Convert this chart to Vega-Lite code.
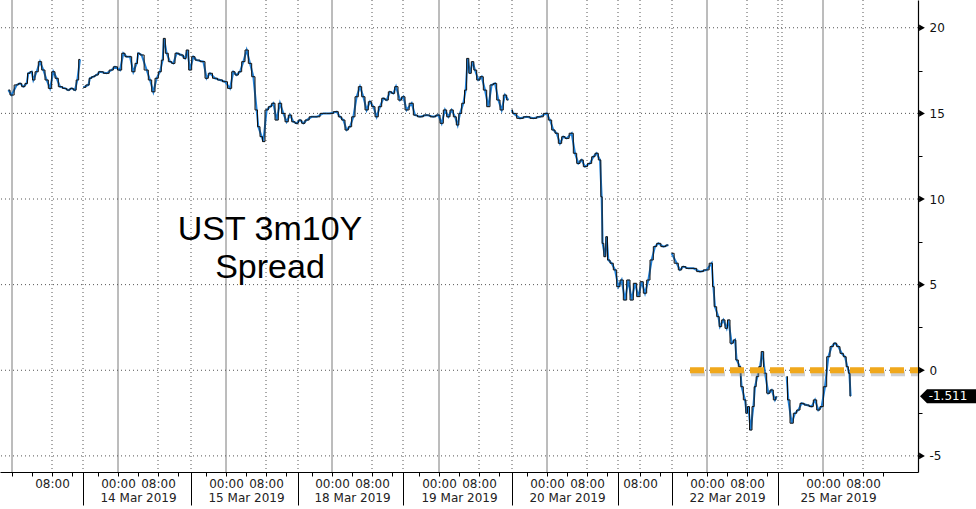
{
  "$schema": "https://vega.github.io/schema/vega-lite/v6.json",
  "width": 918,
  "height": 472,
  "autosize": {"type": "none"},
  "padding": {"left": 0, "top": 0, "right": 58, "bottom": 37},
  "background": "white",
  "config": {
    "view": {"stroke": null},
    "axis": {"labelFont": "DejaVu Sans", "labelFontSize": 12, "labelColor": "#222222", "title": null, "grid": false}
  },
  "datasets": {
    "series": [
      {"t": -0.73, "v": 16.36, "s": 1}, {"t": -0.07, "v": 16.07, "s": 1}, {"t": 0.93, "v": 16.66, "s": 1}, {"t": 1.6, "v": 16.75, "s": 1},
      {"t": 2.27, "v": 16.56, "s": 1}, {"t": 2.93, "v": 16.75, "s": 1}, {"t": 3.27, "v": 17.34, "s": 1}, {"t": 3.93, "v": 17.43, "s": 1},
      {"t": 4.27, "v": 16.95, "s": 1}, {"t": 4.93, "v": 17.43, "s": 1}, {"t": 5.6, "v": 18.02, "s": 1}, {"t": 6.27, "v": 17.53, "s": 1},
      {"t": 6.93, "v": 16.95, "s": 1}, {"t": 7.6, "v": 16.46, "s": 1}, {"t": 8.27, "v": 17.43, "s": 1}, {"t": 8.93, "v": 17.05, "s": 1},
      {"t": 9.6, "v": 16.56, "s": 1}, {"t": 10.6, "v": 16.46, "s": 1}, {"t": 11.27, "v": 16.36, "s": 1}, {"t": 11.93, "v": 16.46, "s": 1},
      {"t": 12.6, "v": 16.36, "s": 1}, {"t": 13.07, "v": 16.95, "s": 1}, {"t": 13.6, "v": 18.15, "s": 1},
      {"t": 14.27, "v": 16.52, "s": 2}, {"t": 15.27, "v": 16.66, "s": 2}, {"t": 15.6, "v": 17.05, "s": 2}, {"t": 16.27, "v": 17.14, "s": 2},
      {"t": 16.93, "v": 17.24, "s": 2}, {"t": 17.6, "v": 17.43, "s": 2}, {"t": 18.93, "v": 17.34, "s": 2}, {"t": 19.93, "v": 17.53, "s": 2},
      {"t": 20.6, "v": 17.72, "s": 2}, {"t": 21.6, "v": 17.53, "s": 2}, {"t": 22.27, "v": 18.51, "s": 2}, {"t": 22.93, "v": 18.31, "s": 2},
      {"t": 23.6, "v": 18.31, "s": 2}, {"t": 24.27, "v": 17.43, "s": 2}, {"t": 24.93, "v": 17.92, "s": 2}, {"t": 25.27, "v": 18.51, "s": 2},
      {"t": 25.93, "v": 18.41, "s": 2}, {"t": 26.93, "v": 17.53, "s": 2}, {"t": 27.6, "v": 16.95, "s": 2}, {"t": 28.27, "v": 16.26, "s": 2},
      {"t": 28.93, "v": 17.05, "s": 2}, {"t": 29.6, "v": 17.43, "s": 2}, {"t": 30.13, "v": 18.11, "s": 2}, {"t": 30.4, "v": 19.38, "s": 2},
      {"t": 30.93, "v": 18.51, "s": 2}, {"t": 31.6, "v": 18.02, "s": 2}, {"t": 32.27, "v": 17.92, "s": 2}, {"t": 32.93, "v": 18.51, "s": 2},
      {"t": 33.93, "v": 18.41, "s": 2}, {"t": 34.6, "v": 18.21, "s": 2}, {"t": 35.07, "v": 18.7, "s": 2}, {"t": 35.6, "v": 17.53, "s": 2},
      {"t": 36.27, "v": 18.31, "s": 2}, {"t": 36.93, "v": 18.11, "s": 2}, {"t": 38.27, "v": 18.02, "s": 2}, {"t": 38.93, "v": 17.05, "s": 2},
      {"t": 39.6, "v": 17.34, "s": 2}, {"t": 40.6, "v": 17.05, "s": 2}, {"t": 41.6, "v": 16.95, "s": 2}, {"t": 42.6, "v": 16.85, "s": 2},
      {"t": 43.6, "v": 16.46, "s": 2}, {"t": 44.27, "v": 17.43, "s": 2}, {"t": 44.93, "v": 17.24, "s": 2}, {"t": 45.6, "v": 17.43, "s": 2},
      {"t": 46.27, "v": 18.02, "s": 2}, {"t": 46.93, "v": 18.7, "s": 2}, {"t": 47.6, "v": 17.92, "s": 2}, {"t": 48.27, "v": 17.14, "s": 2},
      {"t": 48.93, "v": 15.2, "s": 2}, {"t": 49.27, "v": 14.22, "s": 2}, {"t": 49.93, "v": 13.64, "s": 2}, {"t": 50.27, "v": 13.35, "s": 2},
      {"t": 50.93, "v": 15.2, "s": 2}, {"t": 51.6, "v": 15.39, "s": 2}, {"t": 52.27, "v": 15.59, "s": 2}, {"t": 52.93, "v": 14.61, "s": 2},
      {"t": 53.6, "v": 15.59, "s": 2}, {"t": 54.27, "v": 15.0, "s": 2}, {"t": 54.93, "v": 14.51, "s": 2}, {"t": 55.6, "v": 14.9, "s": 2},
      {"t": 56.27, "v": 14.51, "s": 2}, {"t": 56.93, "v": 14.42, "s": 2}, {"t": 57.6, "v": 14.61, "s": 2}, {"t": 58.27, "v": 14.42, "s": 2},
      {"t": 58.93, "v": 14.61, "s": 2}, {"t": 59.93, "v": 14.8, "s": 2}, {"t": 60.93, "v": 14.8, "s": 2}, {"t": 62.27, "v": 15.0, "s": 2},
      {"t": 63.6, "v": 15.0, "s": 2}, {"t": 64.93, "v": 15.1, "s": 2}, {"t": 65.6, "v": 14.8, "s": 2}, {"t": 66.27, "v": 14.61, "s": 2},
      {"t": 66.93, "v": 14.03, "s": 2}, {"t": 67.6, "v": 14.22, "s": 2}, {"t": 68.27, "v": 14.8, "s": 2}, {"t": 68.93, "v": 15.97, "s": 2},
      {"t": 69.6, "v": 16.56, "s": 2}, {"t": 70.27, "v": 15.97, "s": 2}, {"t": 70.93, "v": 15.2, "s": 2}, {"t": 71.6, "v": 15.68, "s": 2},
      {"t": 72.27, "v": 15.39, "s": 2}, {"t": 72.93, "v": 14.8, "s": 2}, {"t": 73.6, "v": 15.39, "s": 2}, {"t": 74.27, "v": 15.88, "s": 2},
      {"t": 74.93, "v": 15.78, "s": 2}, {"t": 75.6, "v": 16.26, "s": 2}, {"t": 76.27, "v": 16.17, "s": 2}, {"t": 76.8, "v": 16.56, "s": 2},
      {"t": 77.6, "v": 15.78, "s": 2}, {"t": 78.27, "v": 15.97, "s": 2}, {"t": 78.93, "v": 15.2, "s": 2}, {"t": 79.93, "v": 15.59, "s": 2},
      {"t": 80.6, "v": 14.9, "s": 2}, {"t": 81.6, "v": 14.8, "s": 2}, {"t": 82.93, "v": 14.9, "s": 2}, {"t": 84.27, "v": 14.8, "s": 2},
      {"t": 85.27, "v": 14.9, "s": 2}, {"t": 85.93, "v": 14.42, "s": 2}, {"t": 86.6, "v": 15.2, "s": 2}, {"t": 87.27, "v": 14.8, "s": 2},
      {"t": 87.93, "v": 15.2, "s": 2}, {"t": 88.6, "v": 14.8, "s": 2}, {"t": 89.13, "v": 14.32, "s": 2}, {"t": 89.6, "v": 15.0, "s": 2},
      {"t": 90.27, "v": 15.59, "s": 2}, {"t": 90.73, "v": 16.36, "s": 2}, {"t": 91.13, "v": 18.21, "s": 2}, {"t": 91.6, "v": 17.34, "s": 2},
      {"t": 92.13, "v": 18.02, "s": 2}, {"t": 92.6, "v": 17.53, "s": 2}, {"t": 93.27, "v": 16.95, "s": 2}, {"t": 93.93, "v": 17.14, "s": 2},
      {"t": 94.6, "v": 16.36, "s": 2}, {"t": 95.27, "v": 15.39, "s": 2}, {"t": 95.93, "v": 16.66, "s": 2}, {"t": 96.6, "v": 16.75, "s": 2},
      {"t": 97.27, "v": 15.78, "s": 2}, {"t": 97.93, "v": 15.2, "s": 2}, {"t": 98.6, "v": 16.07, "s": 2}, {"t": 99.27, "v": 15.78, "s": 2},
      {"t": 99.93, "v": 15.2, "s": 3}, {"t": 100.27, "v": 15.0, "s": 3}, {"t": 101.6, "v": 14.71, "s": 3}, {"t": 102.93, "v": 14.8, "s": 3},
      {"t": 104.27, "v": 14.71, "s": 3}, {"t": 105.6, "v": 14.8, "s": 3}, {"t": 106.93, "v": 15.0, "s": 3}, {"t": 107.6, "v": 14.61, "s": 3},
      {"t": 108.27, "v": 14.03, "s": 3}, {"t": 108.93, "v": 13.84, "s": 3}, {"t": 109.6, "v": 13.25, "s": 3}, {"t": 110.27, "v": 13.64, "s": 3},
      {"t": 110.93, "v": 13.54, "s": 3}, {"t": 111.93, "v": 13.84, "s": 3}, {"t": 112.6, "v": 12.67, "s": 3}, {"t": 113.27, "v": 12.08, "s": 3},
      {"t": 113.93, "v": 12.28, "s": 3}, {"t": 114.6, "v": 11.89, "s": 3}, {"t": 115.6, "v": 12.08, "s": 3}, {"t": 116.27, "v": 12.47, "s": 3},
      {"t": 116.93, "v": 12.67, "s": 3}, {"t": 117.6, "v": 12.28, "s": 3}, {"t": 117.93, "v": 10.13, "s": 3}, {"t": 118.13, "v": 7.41, "s": 3},
      {"t": 118.6, "v": 6.63, "s": 3}, {"t": 118.93, "v": 7.8, "s": 3}, {"t": 119.27, "v": 6.44, "s": 3}, {"t": 119.93, "v": 6.25, "s": 3},
      {"t": 120.6, "v": 5.86, "s": 3}, {"t": 121.27, "v": 4.88, "s": 3}, {"t": 121.93, "v": 5.27, "s": 3}, {"t": 122.6, "v": 4.1, "s": 3},
      {"t": 123.27, "v": 5.27, "s": 3}, {"t": 123.93, "v": 4.1, "s": 3}, {"t": 124.6, "v": 5.08, "s": 3}, {"t": 125.27, "v": 4.3, "s": 3},
      {"t": 125.93, "v": 5.17, "s": 3}, {"t": 126.6, "v": 4.5, "s": 3}, {"t": 127.27, "v": 5.27, "s": 3}, {"t": 127.93, "v": 6.44, "s": 3},
      {"t": 128.6, "v": 7.22, "s": 3}, {"t": 129.27, "v": 7.41, "s": 3}, {"t": 130.27, "v": 7.22, "s": 3}, {"t": 131.27, "v": 7.31, "s": 3},
      {"t": 131.93, "v": 6.83, "s": 4}, {"t": 132.93, "v": 6.25, "s": 4}, {"t": 133.6, "v": 5.86, "s": 4}, {"t": 134.27, "v": 6.05, "s": 4},
      {"t": 135.27, "v": 5.95, "s": 4}, {"t": 136.27, "v": 5.95, "s": 4}, {"t": 137.6, "v": 5.76, "s": 4}, {"t": 138.93, "v": 5.86, "s": 4},
      {"t": 139.93, "v": 6.25, "s": 4}, {"t": 140.27, "v": 4.88, "s": 4}, {"t": 140.6, "v": 3.71, "s": 4}, {"t": 141.27, "v": 3.13, "s": 4},
      {"t": 141.6, "v": 2.55, "s": 4}, {"t": 142.27, "v": 2.94, "s": 4}, {"t": 142.93, "v": 2.45, "s": 4}, {"t": 143.27, "v": 2.94, "s": 4},
      {"t": 143.93, "v": 1.58, "s": 4}, {"t": 144.6, "v": 1.77, "s": 4}, {"t": 144.93, "v": 0.6, "s": 4}, {"t": 145.6, "v": 0.21, "s": 4},
      {"t": 145.93, "v": -0.96, "s": 4}, {"t": 146.6, "v": -1.73, "s": 4}, {"t": 146.93, "v": -2.51, "s": 4}, {"t": 147.27, "v": -2.12, "s": 4},
      {"t": 147.73, "v": -3.49, "s": 4}, {"t": 148.27, "v": -2.12, "s": 4}, {"t": 148.6, "v": -0.96, "s": 4}, {"t": 149.07, "v": -0.37, "s": 4},
      {"t": 149.6, "v": 0.21, "s": 4}, {"t": 150.07, "v": 1.09, "s": 4}, {"t": 150.6, "v": -0.17, "s": 4}, {"t": 151.27, "v": -1.34, "s": 4},
      {"t": 151.93, "v": -1.15, "s": 4}, {"t": 152.6, "v": -1.73, "s": 4}, {"t": 152.93, "v": -1.54, "s": 4},
      {"t": 154.93, "v": -0.37, "s": 5}, {"t": 155.27, "v": -1.73, "s": 5}, {"t": 155.93, "v": -3.09, "s": 5}, {"t": 156.6, "v": -2.51, "s": 5},
      {"t": 157.27, "v": -2.32, "s": 5}, {"t": 157.93, "v": -1.93, "s": 5}, {"t": 158.93, "v": -2.03, "s": 5}, {"t": 159.93, "v": -2.12, "s": 5},
      {"t": 160.6, "v": -1.73, "s": 5}, {"t": 161.27, "v": -2.32, "s": 5}, {"t": 161.93, "v": -2.12, "s": 5}, {"t": 162.6, "v": -0.96, "s": 5},
      {"t": 163.27, "v": 0.79, "s": 5}, {"t": 163.93, "v": 1.38, "s": 5}, {"t": 164.6, "v": 1.58, "s": 5}, {"t": 165.27, "v": 1.38, "s": 5},
      {"t": 165.93, "v": 0.99, "s": 5}, {"t": 166.6, "v": 0.79, "s": 5}, {"t": 167.07, "v": 0.21, "s": 5}, {"t": 167.47, "v": -0.17, "s": 5},
      {"t": 167.73, "v": -1.511, "s": 5}
    ],
    "vgrid": [
      {"t": 0, "k": "day"}, {"t": 21.2, "k": "day"}, {"t": 42.8, "k": "day"}, {"t": 64, "k": "day"},
      {"t": 85.4, "k": "day"}, {"t": 107, "k": "day"}, {"t": 139, "k": "day"}, {"t": 162.2, "k": "day"},
      {"t": 8, "k": "dot"}, {"t": 29.2, "k": "dot"}, {"t": 50.8, "k": "dot"}, {"t": 72, "k": "dot"},
      {"t": 93.4, "k": "dot"}, {"t": 115, "k": "dot"}, {"t": 125.6, "k": "dot"}, {"t": 147, "k": "dot"},
      {"t": 170.2, "k": "dot"},
      {"t": 14.2, "k": "dot"}, {"t": 35.8, "k": "dot"}, {"t": 57.2, "k": "dot"}, {"t": 78.2, "k": "dot"},
      {"t": 100, "k": "dot"}, {"t": 121.2, "k": "dot"}, {"t": 132, "k": "dot"}, {"t": 153.2, "k": "dot"},
      {"t": 154, "k": "dot"}
    ],
    "hgrid": [{"y": -5}, {"y": 0}, {"y": 5}, {"y": 10}, {"y": 15}, {"y": 20}],
    "last": [{"label": "-1.511", "v": -1.511}],
    "title": [{"line1": "UST 3m10Y", "line2": "Spread"}]
  },
  "resolve": {"axis": {"x": "independent"}},
  "layer": [
    {
      "data": {"name": "vgrid"},
      "mark": {"type": "rule", "strokeWidth": 1},
      "encoding": {
        "x": {
          "field": "t", "type": "quantitative",
          "scale": {"domain": [-2.4, 181.2], "nice": false, "zero": false},
          "axis": {
            "orient": "bottom", "values": [14.2, 35.8, 57.2, 78.2, 100, 121.2, 132, 153.2],
            "labels": false, "domain": false, "ticks": true, "tickSize": 33, "tickColor": "#000000", "tickWidth": 1
          }
        },
        "strokeDash": {"field": "k", "type": "nominal", "scale": {"domain": ["day", "dot"], "range": [[1, 0], [1, 3]]}, "legend": null},
        "color": {"field": "k", "type": "nominal", "scale": {"domain": ["day", "dot"], "range": ["#7a7a7a", "#555555"]}, "legend": null}
      }
    },
    {
      "data": {"name": "hgrid"},
      "mark": {"type": "rule", "color": "#555555", "strokeWidth": 1, "strokeDash": [1, 3]},
      "encoding": {
        "y": {
          "field": "y", "type": "quantitative",
          "scale": {"domain": [-5.94, 21.62], "nice": false, "zero": false},
          "axis": {
            "orient": "right",
            "values": [-5, -2.5, 0, 2.5, 5, 7.5, 10, 12.5, 15, 17.5, 20],
            "labelExpr": "datum.value % 5 === 0 ? '' + datum.value : ''",
            "domain": true, "domainColor": "#000000", "domainWidth": 1.2,
            "ticks": true, "tickSize": 4, "tickColor": "#000000",
            "labelPadding": 7, "labelFontSize": 12, "labelColor": "#111111",
            "labelBaseline": "middle", "labelOverlap": false, "labelFlush": false, "labelBound": false
          }
        }
      }
    },
    {
      "data": {"name": "series"},
      "mark": {"type": "line", "color": "#2080d8", "strokeWidth": 2},
      "encoding": {
        "x": {
          "field": "t", "type": "quantitative",
          "axis": {
            "orient": "bottom",
            "values": [0, 4, 8, 12, 17.2, 21.2, 25.2, 29.2, 33.2, 38.8, 42.8, 46.8, 50.8, 54.8, 60, 64, 68, 72, 76, 81.4, 85.4, 89.4, 93.4, 97.4, 103, 107, 111, 115, 119, 125.6, 129.6, 135, 139, 143, 147, 151, 158.2, 162.2, 166.2, 170.2, 174.2],
            "labelExpr": "indexof([21.2, 42.8, 64, 85.4, 107, 139, 162.2], datum.value) >= 0 ? '00:00' : (indexof([8, 29.2, 50.8, 72, 93.4, 115, 125.6, 147, 170.2], datum.value) >= 0 ? '08:00' : '')",
            "domain": true, "domainColor": "#000000", "domainWidth": 1.2,
            "ticks": true, "tickSize": 4, "tickColor": "#000000",
            "labelPadding": 2, "labelBaseline": "top",
            "labelOverlap": false, "labelFlush": false, "labelBound": false
          }
        },
        "y": {"field": "v", "type": "quantitative"},
        "detail": {"field": "s", "type": "nominal"}
      }
    },
    {
      "data": {"name": "series"},
      "mark": {"type": "line", "interpolate": "step", "color": "#111111", "strokeWidth": 1},
      "encoding": {
        "x": {
          "field": "t", "type": "quantitative",
          "axis": {
            "orient": "bottom",
            "values": [25.2, 46.8, 68, 89.4, 111, 143, 165.2],
            "labelExpr": "['14 Mar 2019','15 Mar 2019','18 Mar 2019','19 Mar 2019','20 Mar 2019','22 Mar 2019','25 Mar 2019'][indexof([25.2, 46.8, 68, 89.4, 111, 143, 165.2], datum.value)]",
            "ticks": false, "tickSize": 0, "domain": false, "labelPadding": 20, "labelBaseline": "top",
            "labelOverlap": false, "labelFlush": false, "labelBound": false
          }
        },
        "y": {"field": "v", "type": "quantitative"},
        "detail": {"field": "s", "type": "nominal"}
      }
    },
    {
      "data": {"name": "last"},
      "mark": {"type": "rule", "color": "#9a9a9a", "opacity": 0.45, "strokeWidth": 5, "strokeDash": [14, 6]},
      "encoding": {
        "x": {"datum": 135.8, "type": "quantitative", "axis": null},
        "x2": {"datum": 181.2},
        "y": {"datum": -0.2, "type": "quantitative"}
      }
    },
    {
      "data": {"name": "last"},
      "mark": {"type": "rule", "color": "#f0a81c", "strokeWidth": 6, "strokeDash": [14, 6]},
      "encoding": {
        "x": {"datum": 135.6, "type": "quantitative", "axis": null},
        "x2": {"datum": 181.2},
        "y": {"datum": 0, "type": "quantitative"}
      }
    },
    {
      "data": {"name": "hgrid"},
      "mark": {"type": "point", "shape": "triangle-right", "filled": true, "color": "#000000", "opacity": 1, "size": 45, "xOffset": 4},
      "encoding": {
        "x": {"datum": 181.2, "type": "quantitative", "axis": null},
        "y": {"field": "y", "type": "quantitative"}
      }
    },
    {
      "data": {"name": "last"},
      "mark": {"type": "point", "shape": "M 0.2 0 L 0.9 -0.7 L 5.8 -0.7 L 5.8 0.7 L 0.9 0.7 Z", "filled": true, "color": "#000000", "opacity": 1, "size": 400},
      "encoding": {
        "x": {"datum": 181.2, "type": "quantitative", "axis": null},
        "y": {"field": "v", "type": "quantitative"}
      }
    },
    {
      "data": {"name": "last"},
      "mark": {"type": "text", "color": "#ffffff", "font": "DejaVu Sans", "fontSize": 12, "align": "center", "baseline": "middle", "dx": 30},
      "encoding": {
        "x": {"datum": 181.2, "type": "quantitative", "axis": null},
        "y": {"field": "v", "type": "quantitative"},
        "text": {"field": "label"}
      }
    },
    {
      "data": {"name": "title"},
      "mark": {"type": "text", "color": "#000000", "font": "Liberation Sans", "fontSize": 34, "align": "center", "baseline": "alphabetic", "dy": -19},
      "encoding": {
        "x": {"datum": 51.6, "type": "quantitative", "axis": null},
        "y": {"datum": 6.5, "type": "quantitative"},
        "text": {"field": "line1"}
      }
    },
    {
      "data": {"name": "title"},
      "mark": {"type": "text", "color": "#000000", "font": "Liberation Sans", "fontSize": 34, "align": "center", "baseline": "alphabetic", "dy": 19},
      "encoding": {
        "x": {"datum": 51.6, "type": "quantitative", "axis": null},
        "y": {"datum": 6.5, "type": "quantitative"},
        "text": {"field": "line2"}
      }
    }
  ]
}
